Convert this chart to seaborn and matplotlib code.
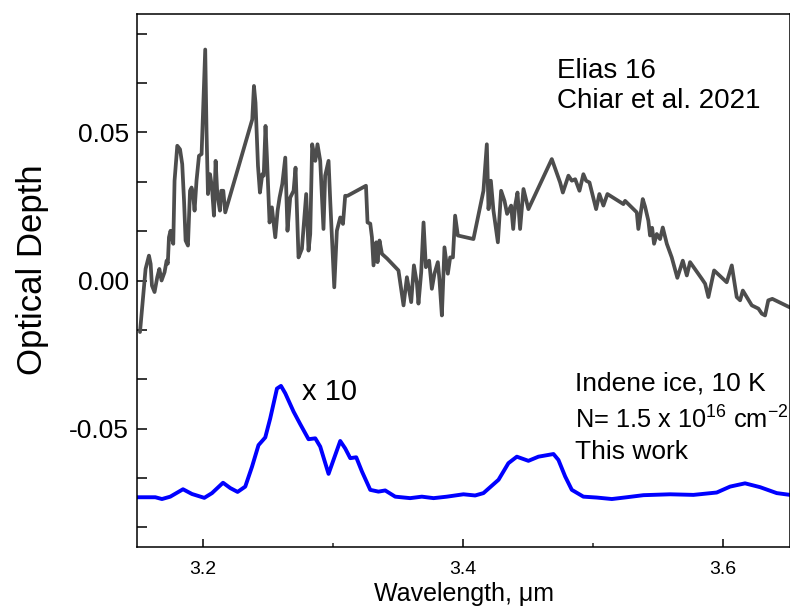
import numpy as np
import pandas as pd
import matplotlib
matplotlib.use("Agg")
import matplotlib.pyplot as plt
from matplotlib.ticker import MultipleLocator, FixedLocator
import seaborn as sns

# Elias 16 (Chiar et al. 2021) optical depth
elias_wl = [3.1513, 3.1556, 3.1582, 3.1595, 3.1605, 3.1625, 3.1646, 3.1662, 3.1679, 3.1702,
            3.1718, 3.1727, 3.1736, 3.1748, 3.1769, 3.1779, 3.1800, 3.1821, 3.1838, 3.1852,
            3.1864, 3.1882, 3.1898, 3.1910, 3.1921, 3.1933, 3.1948, 3.1967, 3.1987, 3.2015,
            3.2025, 3.2036, 3.2052, 3.2067, 3.2082, 3.2095, 3.2108, 3.2128, 3.2138, 3.2154,
            3.2169, 3.2377, 3.2390, 3.2402, 3.2421, 3.2436, 3.2454, 3.2465, 3.2479, 3.2490,
            3.2510, 3.2528, 3.2554, 3.2572, 3.2587, 3.2608, 3.2631, 3.2648, 3.2669, 3.2695,
            3.2710, 3.2733, 3.2759, 3.2777, 3.2792, 3.2810, 3.2823, 3.2838, 3.2862, 3.2879,
            3.2900, 3.2925, 3.2938, 3.2964, 3.2977, 3.3008, 3.3028, 3.3054, 3.3075, 3.3092,
            3.3110, 3.3252, 3.3264, 3.3285, 3.3298, 3.3310, 3.3331, 3.3341, 3.3356, 3.3375,
            3.3415, 3.3502, 3.3541, 3.3567, 3.3585, 3.3600, 3.3621, 3.3644, 3.3656, 3.3677,
            3.3695, 3.3713, 3.3738, 3.3759, 3.3779, 3.3805, 3.3818, 3.3836, 3.3856, 3.3882,
            3.3900, 3.3921, 3.3938, 3.3959, 3.4079, 3.4156, 3.4182, 3.4195, 3.4213, 3.4233,
            3.4267, 3.4292, 3.4318, 3.4338, 3.4369, 3.4385, 3.4400, 3.4418, 3.4438, 3.4464,
            3.4502, 3.4682, 3.4746, 3.4767, 3.4810, 3.4836, 3.4862, 3.4895, 3.4925, 3.4946,
            3.4972, 3.5023, 3.5048, 3.5079, 3.5110, 3.5233, 3.5246, 3.5336, 3.5348, 3.5382,
            3.5400, 3.5425, 3.5438, 3.5454, 3.5469, 3.5490, 3.5515, 3.5536, 3.5567, 3.5605,
            3.5648, 3.5690, 3.5721, 3.5746, 3.5836, 3.5862, 3.5887, 3.5931, 3.6028, 3.6067,
            3.6105, 3.6131, 3.6152, 3.6221, 3.6272, 3.6298, 3.6323, 3.6348, 3.6379, 3.6510,
            3.6550]
elias_tau = [-0.0174, 0.0039, 0.0084, 0.0056, -0.0017, -0.0039, 0.0011, 0.0039, 0.0000, 0.0028,
             0.0067, 0.0057, 0.0146, 0.0168, 0.0124, 0.0337, 0.0455, 0.0443, 0.0393, 0.0269,
             0.0135, 0.0118, 0.0303, 0.0314, 0.0293, 0.0236, 0.0337, 0.0421, 0.0427, 0.0780,
             0.0505, 0.0292, 0.0359, 0.0314, 0.0219, 0.0404, 0.0292, 0.0236, 0.0303, 0.0303,
             0.0230, 0.0544, 0.0657, 0.0600, 0.0387, 0.0297, 0.0359, 0.0354, 0.0522, 0.0415,
             0.0196, 0.0247, 0.0146, 0.0236, 0.0280, 0.0326, 0.0415, 0.0168, 0.0280, 0.0303,
             0.0381, 0.0078, 0.0107, 0.0208, 0.0292, 0.0101, 0.0157, 0.0460, 0.0404, 0.0460,
             0.0404, 0.0174, 0.0354, 0.0404, 0.0269, -0.0023, 0.0168, 0.0213, 0.0191, 0.0286,
             0.0286, 0.0320, 0.0196, 0.0192, 0.0146, 0.0051, 0.0129, 0.0062, 0.0135, 0.0090,
             0.0074, 0.0034, -0.0084, 0.0011, -0.0034, -0.0073, 0.0051, -0.0010, -0.0078, 0.0028,
             0.0196, 0.0045, 0.0067, -0.0028, 0.0023, 0.0062, 0.0000, -0.0118, 0.0112, 0.0023,
             0.0078, 0.0078, 0.0219, 0.0152, 0.0140, 0.0303, 0.0460, 0.0241, 0.0337, 0.0236,
             0.0129, 0.0303, 0.0269, 0.0225, 0.0253, 0.0174, 0.0253, 0.0297, 0.0174, 0.0309,
             0.0241, 0.0410, 0.0331, 0.0297, 0.0354, 0.0337, 0.0342, 0.0303, 0.0359, 0.0337,
             0.0331, 0.0241, 0.0292, 0.0253, 0.0292, 0.0258, 0.0269, 0.0230, 0.0174, 0.0275,
             0.0249, 0.0202, 0.0152, 0.0178, 0.0124, 0.0157, 0.0140, 0.0179, 0.0124, 0.0078,
             0.0009, 0.0067, 0.0017, 0.0062, 0.0006, -0.0011, -0.0056, 0.0034, -0.0006, 0.0051,
             -0.0056, -0.0067, -0.0034, -0.0084, -0.0095, -0.0112, -0.0118, -0.0067, -0.0062, -0.0090,
             -0.0095]

# Indene ice, 10 K (x 10, offset)
indene_wl = [3.1490, 3.1631, 3.1682, 3.1746, 3.1844, 3.1913, 3.2008, 3.2067, 3.2152, 3.2208,
             3.2264, 3.2323, 3.2375, 3.2425, 3.2477, 3.2515, 3.2567, 3.2598, 3.2631, 3.2695,
             3.2746, 3.2810, 3.2862, 3.2900, 3.2964, 3.3002, 3.3054, 3.3092, 3.3131, 3.3177,
             3.3221, 3.3285, 3.3348, 3.3400, 3.3477, 3.3592, 3.3682, 3.3772, 3.3875, 3.4002,
             3.4092, 3.4156, 3.4272, 3.4348, 3.4413, 3.4502, 3.4579, 3.4695, 3.4733, 3.4785,
             3.4836, 3.4925, 3.5028, 3.5144, 3.5259, 3.5387, 3.5592, 3.5772, 3.5951, 3.6054,
             3.6169, 3.6285, 3.6413, 3.6515]
indene_tau = [-0.0732, -0.0732, -0.0738, -0.0730, -0.0705, -0.0721, -0.0734, -0.0718, -0.0683, -0.0701,
              -0.0714, -0.0696, -0.0629, -0.0556, -0.0530, -0.0466, -0.0365, -0.0356, -0.0381, -0.0443,
              -0.0485, -0.0536, -0.0533, -0.0561, -0.0653, -0.0606, -0.0542, -0.0567, -0.0600, -0.0597,
              -0.0645, -0.0707, -0.0713, -0.0709, -0.0730, -0.0735, -0.0730, -0.0735, -0.0730, -0.0722,
              -0.0726, -0.0718, -0.0673, -0.0617, -0.0595, -0.0609, -0.0595, -0.0586, -0.0606, -0.0662,
              -0.0707, -0.0730, -0.0733, -0.0738, -0.0732, -0.0725, -0.0722, -0.0724, -0.0716, -0.0696,
              -0.0685, -0.0698, -0.0718, -0.0724]

x_major = [3.2, 3.4, 3.6]
x_minor = [3.3, 3.5]
x_labels = ["3.2", "3.4", "3.6"]

sns.set_theme(style="ticks")
plt.rcParams['font.family'] = ['Liberation Sans', 'DejaVu Sans']
plt.rcParams['mathtext.fontset'] = 'custom'
plt.rcParams['mathtext.rm'] = 'Liberation Sans'
plt.rcParams['mathtext.it'] = 'Liberation Sans:italic'

fig = plt.figure(figsize=(7.9, 6.11), dpi=100)
ax = fig.add_axes([137/790, 1 - 547/611, 1 - 137/790, (547 - 14)/611])

df_e = pd.DataFrame({"wl": elias_wl, "tau": elias_tau})
df_i = pd.DataFrame({"wl": indene_wl, "tau": indene_tau})
sns.lineplot(data=df_e, x="wl", y="tau", ax=ax, color="#4d4d4d", lw=2.7,
             estimator=None, sort=False)
sns.lineplot(data=df_i, x="wl", y="tau", ax=ax, color="#0000ff", lw=2.8,
             estimator=None, sort=False)

ax.set_xlim(3.149, 3.6515)
ax.set_ylim(-0.09, 0.09)

ax.xaxis.set_major_locator(FixedLocator(x_major))
ax.xaxis.set_minor_locator(FixedLocator(x_minor))
ax.set_xticklabels(x_labels)
ax.yaxis.set_major_locator(MultipleLocator(0.05))
ax.yaxis.set_minor_locator(MultipleLocator(0.05 / 3))
ax.yaxis.set_major_formatter(matplotlib.ticker.FuncFormatter(lambda v, p: f"{v:.2f}".replace("-0.00", "0.00")))

ax.tick_params(axis='x', which='major', direction='in', length=6, width=1.1, labelsize=14, pad=10, colors='black')
ax.tick_params(axis='x', which='minor', direction='in', length=3, width=1.1)
ax.tick_params(axis='y', which='both', direction='in', length=7, width=1.1, labelsize=19, pad=6, colors='black')

for s in ax.spines.values():
    s.set_color('black')
    s.set_linewidth(1.1)

ax.set_xlabel("Wavelength, \u03bcm", fontsize=18, labelpad=3, color='black')
ax.set_ylabel("Optical Depth", fontsize=25, color='black')
ax.yaxis.set_label_coords(-0.135, 0.52)

ax.text(3.4723, 0.0707, "Elias 16", fontsize=20, color='black', va='center', ha='left')
ax.text(3.4723, 0.0606, "Chiar et al. 2021", fontsize=20, color='black', va='center', ha='left')
ax.text(3.2762, -0.0377, "x 10", fontsize=21, color='black', va='center', ha='left')
ax.text(3.4862, -0.0347, "Indene ice, 10 K", fontsize=19, color='black', va='center', ha='left')
ax.text(3.4862, -0.0471, "N= 1.5 x 10$^{16}$ cm$^{-2}$", fontsize=18.3, color='black', va='center', ha='left')
ax.text(3.4862, -0.0579, "This work", fontsize=19, color='black', va='center', ha='left')

fig.savefig("out.png", dpi=100)
